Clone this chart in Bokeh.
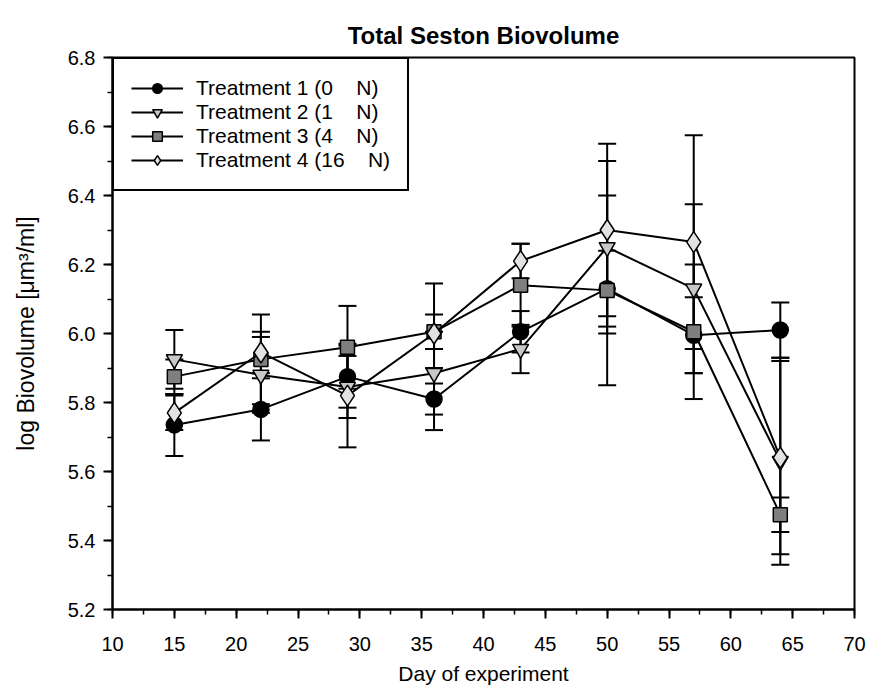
from bokeh.plotting import figure
from bokeh.models import Whisker, TeeHead, ColumnDataSource, FixedTicker, Legend, LegendItem, NumeralTickFormatter
from bokeh.embed import file_html
from bokeh.resources import INLINE

days = [15, 22, 29, 36, 43, 50, 57, 64]
t1 = [5.735, 5.78, 5.875, 5.81, 6.005, 6.13, 5.995, 6.01]
t1_err = [0.09, 0.09, 0.09, 0.09, 0.06, 0.11, 0.11, 0.08]
t2 = [5.925, 5.88, 5.845, 5.885, 5.955, 6.25, 6.13, 5.63]
t2_err = [0.085, 0.11, 0.09, 0.12, 0.07, 0.25, 0.245, 0.30]
t3 = [5.875, 5.925, 5.96, 6.005, 6.14, 6.125, 6.005, 5.475]
t3_err = [0.05, 0.13, 0.12, 0.05, 0.12, 0.275, 0.195, 0.05]
t4 = [5.77, 5.945, 5.82, 6.0, 6.21, 6.30, 6.265, 5.64]
t4_err = [0.05, 0.06, 0.15, 0.145, 0.05, 0.25, 0.31, 0.28]

labels = ["Treatment 1 (0    N)", "Treatment 2 (1    N)", "Treatment 3 (4    N)", "Treatment 4 (16    N)"]
x_ticks = [10, 15, 20, 25, 30, 35, 40, 45, 50, 55, 60, 65, 70]
y_ticks = [5.2, 5.4, 5.6, 5.8, 6.0, 6.2, 6.4, 6.6, 6.8]

FONT = "Liberation Sans"

p = figure(width=893, height=695, output_backend="svg", toolbar_location=None,
           x_range=(10, 70), y_range=(5.2, 6.8),
           min_border_left=112, min_border_right=39, min_border_top=57, min_border_bottom=86,
           title="Total Seston Biovolume")
p.title.align = "center"
p.title.text_font = FONT
p.title.text_font_size = "24px"
p.title.text_font_style = "bold"
p.title.text_color = "black"
p.title.offset = 0
p.title.standoff = 18

p.xgrid.visible = False
p.ygrid.visible = False
p.outline_line_color = "black"
p.outline_line_width = 2
p.outline_line_alpha = 1.0
p.background_fill_color = "white"
p.border_fill_color = "white"

p.xaxis.ticker = FixedTicker(ticks=x_ticks, minor_ticks=[10 + 2.5 * i for i in range(25)])
p.yaxis.ticker = FixedTicker(ticks=y_ticks, minor_ticks=[round(5.2 + 0.1 * i, 1) for i in range(17)])
p.yaxis.formatter = NumeralTickFormatter(format="0.0")

for ax in (p.xaxis[0], p.yaxis[0]):
    ax.axis_line_width = 2
    ax.axis_line_color = "black"
    ax.major_tick_line_width = 2
    ax.minor_tick_line_width = 1.5
    ax.major_tick_line_color = "black"
    ax.minor_tick_line_color = "black"
    ax.major_tick_in = 0
    ax.minor_tick_in = 0
    ax.major_tick_out = 9
    ax.minor_tick_out = 5
    ax.major_label_text_font = FONT
    ax.major_label_text_font_size = "20px"
    ax.major_label_text_color = "black"
    ax.axis_label_text_font = FONT
    ax.axis_label_text_font_style = "normal"
    ax.axis_label_text_color = "black"

p.xaxis.axis_label = "Day of experiment"
p.yaxis.axis_label = "log Biovolume [μm³/ml]"
p.xaxis.axis_label_text_font_size = "21px"
p.yaxis.axis_label_text_font_size = "23px"
p.xaxis.major_label_standoff = 18
p.xaxis.axis_label_standoff = 8
p.yaxis.major_label_standoff = 8
p.yaxis.axis_label_standoff = 26

series = [
    (t1, t1_err, "circle", "black", 16),
    (t2, t2_err, "inverted_triangle", "#c8c8c8", 16),
    (t3, t3_err, "square", "#7f7f7f", 14),
    (t4, t4_err, "diamond", "#e2e2e2", 21),
]

items = []
for (vals, errs, marker, fill, size), lab in zip(series, labels):
    src = ColumnDataSource(dict(x=days, y=vals,
                                lo=[v - e for v, e in zip(vals, errs)],
                                hi=[v + e for v, e in zip(vals, errs)]))
    w = Whisker(source=src, base="x", lower="lo", upper="hi", dimension="height",
                line_color="black", line_width=2,
                upper_head=TeeHead(size=18, line_color="black", line_width=2),
                lower_head=TeeHead(size=18, line_color="black", line_width=2))
    p.add_layout(w)
    ln = p.line("x", "y", source=src, line_color="black", line_width=2)
    sc = p.scatter("x", "y", source=src, marker=marker, size=size,
                   fill_color=fill, line_color="black", line_width=1.5)
    items.append(LegendItem(label=lab, renderers=[ln, sc]))

legend = Legend(items=items, location="top_left")
legend.margin = 0
legend.padding = 17
legend.spacing = 0
legend.glyph_width = 52
legend.glyph_height = 24
legend.label_height = 24
legend.label_standoff = 13
legend.label_text_font = FONT
legend.label_text_font_size = "21px"
legend.label_text_color = "black"
legend.border_line_color = "black"
legend.border_line_width = 2
legend.border_line_alpha = 1.0
legend.background_fill_alpha = 1.0
p.add_layout(legend)

open("out.html", "w").write(file_html(p, INLINE))
